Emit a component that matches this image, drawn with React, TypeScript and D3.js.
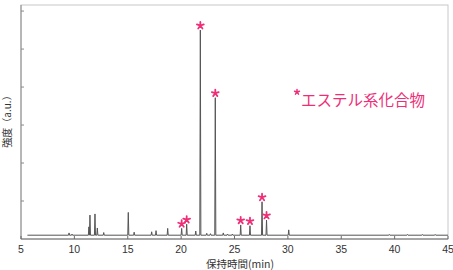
import React from "react";
import * as d3 from "d3";

const peakTimes = [9.5, 9.78, 11.36, 11.46, 11.93, 12.15, 12.75, 15.05, 15.6, 17.24, 17.65, 18.74, 20.05, 20.52, 21.37, 21.8, 22.4, 22.75, 23.2, 23.95, 24.35, 24.8, 25.58, 26.45, 27.58, 28.0, 30.08, 39.5, 41.2, 42.6, 43.8];
const peakHeights = [0.16, 0.13, 0.32, 0.63, 0.66, 0.29, 0.17, 0.7, 0.18, 0.19, 0.22, 0.28, 0.28, 0.39, 0.21, 5.5, 0.15, 0.14, 3.72, 0.16, 0.13, 0.13, 0.37, 0.35, 0.98, 0.5, 0.24, 0.12, 0.12, 0.12, 0.12];
const esterPeaks = [20.05, 20.52, 21.8, 23.2, 25.58, 26.45, 27.58, 28.0];
const baselineLevel = 0.1;
const runStart = 5.6;
const runEnd = 45;
const xTicks = [5, 10, 15, 20, 25, 30, 35, 40, 45];
const yTicks = [1, 2, 3, 4, 5, 6];
const xLabel = "保持時間(min)";
const yLabel = "強度（a.u.）";
const legendText = "エステル系化合物";

const W = 453, H = 270;
const M = { left: 21, right: 448, top: 5, bottom: 239 };
const PINK = "#ee2f78";

function starPath(r: number) {
  let d = "";
  for (let i = 0; i < 5; i++) {
    const a = -Math.PI / 2 + (i * 2 * Math.PI) / 5;
    d += `M0,0L${(r * Math.cos(a)).toFixed(2)},${(r * Math.sin(a)).toFixed(2)}`;
  }
  return d;
}

export default function App() {
  const x = d3.scaleLinear().domain([5, 45]).range([M.left, M.right]);
  const y = d3.scaleLinear().domain([0, 6.16]).range([M.bottom, M.top]);
  const w = 0.05;
  const pts: [number, number][] = [[runStart, baselineLevel]];
  peakTimes.forEach((t, i) => {
    pts.push([t - w, baselineLevel], [t, peakHeights[i]], [t + w, baselineLevel]);
  });
  pts.push([runEnd, baselineLevel]);
  const line = d3.line<[number, number]>().x((d) => x(d[0])).y((d) => y(d[1]));
  const font = "'Liberation Sans', Arial, sans-serif";
  const jp = "'Noto Sans CJK JP', sans-serif";
  return (
    <svg width={W} height={H} style={{ position: "absolute", left: 0, top: 0, background: "#fff" }}>
      <rect x={M.left} y={M.top} width={M.right - M.left} height={M.bottom - M.top} fill="none" stroke="#c8c8c8" strokeWidth={1} />
      <line x1={M.left} x2={M.left} y1={M.top} y2={M.bottom} stroke="#8a8a8a" />
      <line x1={M.left} x2={M.right} y1={M.bottom} y2={M.bottom} stroke="#6a6a6a" />
      {yTicks.map((v) => (
        <line key={"yt" + v} x1={M.left} x2={M.left + 3} y1={y(v)} y2={y(v)} stroke="#8a8a8a" />
      ))}
      {xTicks.map((v) => (
        <g key={"xt" + v}>
          <line x1={x(v)} x2={x(v)} y1={M.bottom} y2={M.bottom - 3} stroke="#6a6a6a" />
          <text x={x(v)} y={252.5} textAnchor="middle" fontFamily={font} fontSize={10.5} fill="#333">{v}</text>
        </g>
      ))}
      <path d={line(pts) || ""} fill="none" stroke="#555" strokeWidth={1} />
      {esterPeaks.map((t) => {
        const i = peakTimes.indexOf(t);
        return (
          <path key={"s" + t} d={starPath(3.6)} transform={`translate(${x(t)},${y(peakHeights[i]) - 4.5})`} stroke={PINK} strokeWidth={1.8} strokeLinecap="round" fill="none" />
        );
      })}
      <text x={240} y={267.5} textAnchor="middle" fontFamily={jp} fontSize={10.5} fill="#333">{xLabel}</text>
      <text transform="translate(11,119) rotate(-90)" textAnchor="middle" fontFamily={jp} fontSize={10} fill="#333">{yLabel}</text>
      <path d={starPath(2.6)} transform="translate(297,92)" stroke={PINK} strokeWidth={1.5} strokeLinecap="round" fill="none" />
      <text x={301} y={106} fontFamily={jp} fontSize={15.5} fill={PINK}>{legendText}</text>
    </svg>
  );
}
